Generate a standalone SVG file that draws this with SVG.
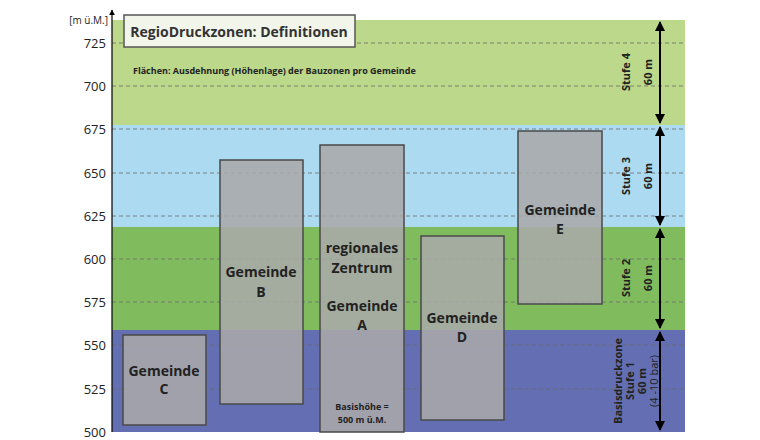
<svg xmlns="http://www.w3.org/2000/svg" width="760" height="440" viewBox="0 0 760 440">
<defs>
<marker id="ah" viewBox="0 0 10 10" refX="9" refY="5" markerWidth="5" markerHeight="5" orient="auto-start-reverse"><path d="M0,0 L10,5 L0,10 z" fill="#000"/></marker>
<style>
text{font-family:"Open Sans","Liberation Sans",sans-serif;font-weight:bold;fill:#222}
.tick{font-weight:normal;font-size:13px;text-anchor:end}
.grid{stroke:#6a6a6a;stroke-width:0.8;stroke-dasharray:4,3}
.box{fill:#a8a8a8;fill-opacity:0.88;stroke:#4a4a4a;stroke-width:1.5}
.bl{font-size:14px;text-anchor:middle}
.st{font-size:11px;text-anchor:middle}
.arr{stroke:#000;stroke-width:2;marker-start:url(#ah);marker-end:url(#ah)}
</style>
</defs>
<rect width="760" height="440" fill="#fff"/>
<rect x="112" y="20" width="573" height="105" fill="#bcd88a"/>
<rect x="112" y="125" width="573" height="102" fill="#acdaf0"/>
<rect x="112" y="227" width="573" height="103" fill="#80bc5e"/>
<rect x="112" y="330" width="573" height="102" fill="#636fb2"/>
<g>
<line class="grid" x1="112" y1="43" x2="685" y2="43"/>
<line class="grid" x1="112" y1="86" x2="685" y2="86"/>
<line class="grid" x1="112" y1="129" x2="685" y2="129"/>
<line class="grid" x1="112" y1="173" x2="685" y2="173"/>
<line class="grid" x1="112" y1="216" x2="685" y2="216"/>
<line class="grid" x1="112" y1="259" x2="685" y2="259"/>
<line class="grid" x1="112" y1="302" x2="685" y2="302"/>
<line class="grid" x1="112" y1="345" x2="685" y2="345"/>
<line class="grid" x1="112" y1="389" x2="685" y2="389"/>
</g>
<line x1="112" y1="432" x2="112" y2="10" stroke="#000" stroke-width="1.2" marker-end="url(#ah)"/>
<text class="tick" x="108" y="24" style="font-size:10px">[m ü.M.]</text>
<text class="tick" x="106" y="48">725</text>
<text class="tick" x="106" y="91">700</text>
<text class="tick" x="106" y="134">675</text>
<text class="tick" x="106" y="178">650</text>
<text class="tick" x="106" y="221">625</text>
<text class="tick" x="106" y="264">600</text>
<text class="tick" x="106" y="307">575</text>
<text class="tick" x="106" y="350">550</text>
<text class="tick" x="106" y="394">525</text>
<text class="tick" x="106" y="437">500</text>
<g id="title"><rect x="124" y="15" width="231" height="32" fill="#f2f5ea" stroke="#555" stroke-width="1.5"/>
<text x="239" y="37" style="font-size:14px;text-anchor:middle;fill:#333">RegioDruckzonen: Definitionen</text></g>
<text x="133" y="74" style="font-size:9px">Flächen: Ausdehnung (Höhenlage) der Bauzonen pro Gemeinde</text>
<g id="gC"><rect class="box" x="123" y="335" width="83" height="90"/><text class="bl" x="164" y="376">Gemeinde</text><text class="bl" x="164" y="394">C</text></g>
<g id="gB"><rect class="box" x="220" y="160" width="83" height="244"/><text class="bl" x="261" y="277">Gemeinde</text><text class="bl" x="261" y="297">B</text></g>
<g id="gA"><rect class="box" x="320" y="145" width="84" height="287"/><text class="bl" x="362" y="253">regionales</text><text class="bl" x="362" y="273">Zentrum</text><text class="bl" x="362" y="311">Gemeinde</text><text class="bl" x="362" y="330">A</text>
<text x="362" y="410" style="font-size:9px;text-anchor:middle">Basishöhe =</text><text x="362" y="423" style="font-size:9px;text-anchor:middle">500 m ü.M.</text></g>
<g id="gD"><rect class="box" x="421" y="236" width="83" height="184"/><text class="bl" x="462" y="323">Gemeinde</text><text class="bl" x="462" y="342">D</text></g>
<g id="gE"><rect class="box" x="518" y="131" width="84" height="173"/><text class="bl" x="560" y="215">Gemeinde</text><text class="bl" x="560" y="234">E</text></g>
<g id="connectors">
<line class="arr" x1="660" y1="22" x2="660" y2="123"/>
<line class="arr" x1="660" y1="127" x2="660" y2="225"/>
<line class="arr" x1="660" y1="229" x2="660" y2="328"/>
<line class="arr" x1="660" y1="332" x2="660" y2="430"/>
</g>
<g class="st">
<text transform="translate(630,72) rotate(-90)">Stufe 4</text>
<text transform="translate(652,72) rotate(-90)">60 m</text>
<text transform="translate(630,176) rotate(-90)">Stufe 3</text>
<text transform="translate(652,176) rotate(-90)">60 m</text>
<text transform="translate(630,278) rotate(-90)">Stufe 2</text>
<text transform="translate(652,278) rotate(-90)">60 m</text>
<text transform="translate(622,381) rotate(-90)">Basisdruckzone</text>
<text transform="translate(634,381) rotate(-90)">Stufe 1</text>
<text transform="translate(646,381) rotate(-90)">60 m</text>
<text transform="translate(658,381) rotate(-90)" style="font-weight:normal">(4 -10 bar)</text>
</g>
</svg>
